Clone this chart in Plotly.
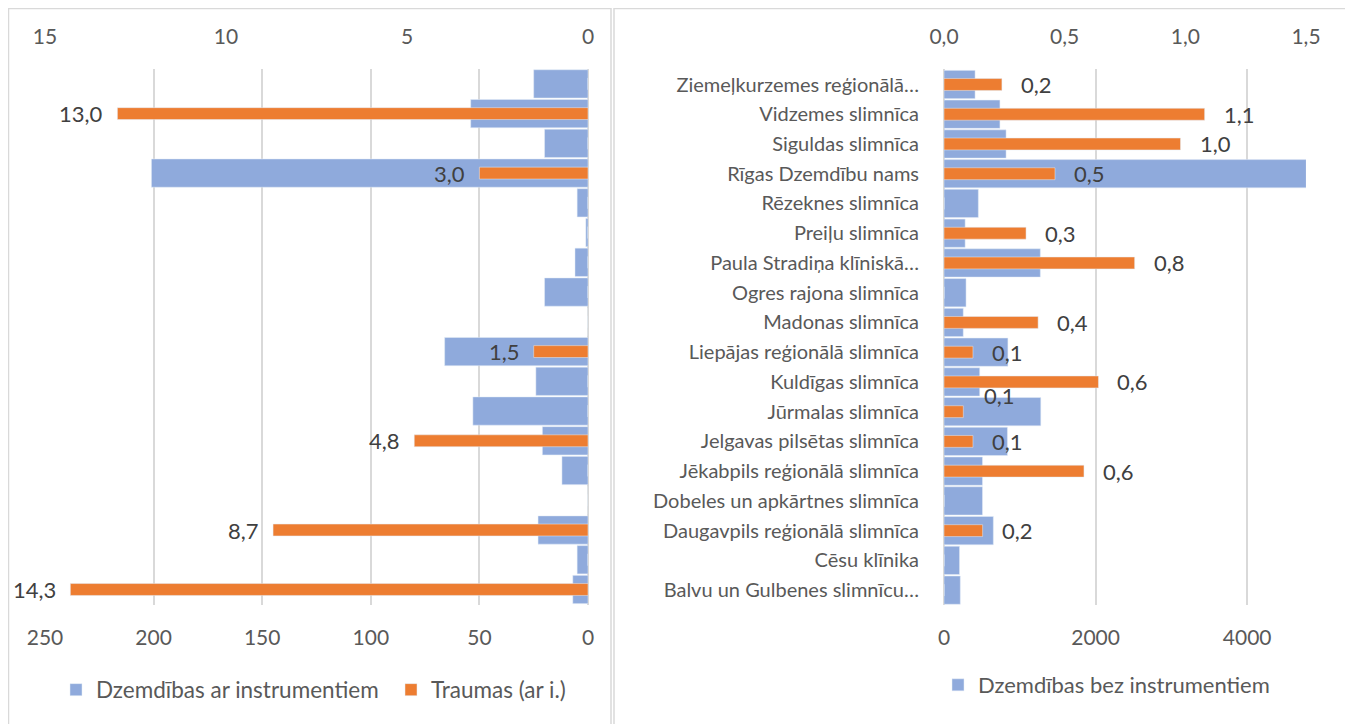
import plotly.graph_objects as go

# ---------------- data ----------------
categories = [
    "Ziemeļkurzemes reģionālā…",
    "Vidzemes slimnīca",
    "Siguldas slimnīca",
    "Rīgas Dzemdību nams",
    "Rēzeknes slimnīca",
    "Preiļu slimnīca",
    "Paula Stradiņa klīniskā…",
    "Ogres rajona slimnīca",
    "Madonas slimnīca",
    "Liepājas reģionālā slimnīca",
    "Kuldīgas slimnīca",
    "Jūrmalas slimnīca",
    "Jelgavas pilsētas slimnīca",
    "Jēkabpils reģionālā slimnīca",
    "Dobeles un apkārtnes slimnīca",
    "Daugavpils reģionālā slimnīca",
    "Cēsu klīnika",
    "Balvu un Gulbenes slimnīcu…",
]
dzemdibas_ar_instr = [25, 54, 20, 201, 5, 1, 6, 20, 0, 66, 24, 53, 21, 12, 0, 23, 5, 7]
traumas_ar_instr = [0, 13.0, 0, 3.0, 0, 0, 0, 0, 0, 1.5, 0, 0, 4.8, 0, 0, 8.7, 0, 14.3]
dzemdibas_bez_instr = [410, 738, 819, 4780, 453, 279, 1271, 291, 254, 843, 471, 1277, 837, 508, 508, 651, 205, 215]
traumas_bez_instr = [0.24, 1.08, 0.98, 0.46, 0, 0.34, 0.79, 0, 0.39, 0.12, 0.64, 0.08, 0.12, 0.58, 0, 0.16, 0, 0]

name_ar = "Dzemdības ar instrumentiem"
name_tr = "Traumas (ar i.)"
name_bez = "Dzemdības bez instrumentiem"

# ---------------- styling ----------------
BLUE = "#8FAADC"
ORANGE = "#ED7D31"
GRID = "#D9D9D9"
TXT = "#595959"
LBL = "#404040"
FONT = "Lato"

W, H = 1345, 716
OX, OY = 8, 8


def px_x(X):
    return (X - OX) / W


def px_y(Y):
    return 1 - (Y - OY) / H


def fmt(v):
    return f"{v:.1f}".replace(".", ",")


fig = go.Figure()

fig.add_trace(go.Bar(
    x=dzemdibas_ar_instr, y=categories, orientation="h", name=name_ar,
    marker=dict(color=BLUE), width=0.95, xaxis="x", yaxis="y",
    legend="legend", hoverinfo="x+y",
))
fig.add_trace(go.Bar(
    x=traumas_ar_instr, y=categories, orientation="h", name=name_tr,
    marker=dict(color=ORANGE), width=0.4, xaxis="x2", yaxis="y",
    legend="legend", hoverinfo="x+y",
))
fig.add_trace(go.Bar(
    x=dzemdibas_bez_instr, y=categories, orientation="h", name=name_bez,
    marker=dict(color=BLUE), width=0.95, xaxis="x3", yaxis="y2",
    legend="legend2", hoverinfo="x+y",
))
fig.add_trace(go.Bar(
    x=traumas_bez_instr, y=categories, orientation="h", name="Traumas (bez i.)",
    marker=dict(color=ORANGE), width=0.4, xaxis="x4", yaxis="y2",
    showlegend=False, hoverinfo="x+y",
))

LABEL_FONT = dict(family=FONT, size=22, color=LBL)
annotations = []
for c, v in zip(categories, traumas_ar_instr):
    if v > 0:
        annotations.append(dict(
            x=v, y=c, xref="x2", yref="y", text=fmt(v), showarrow=False,
            xanchor="right", yanchor="middle", xshift=-12,
            font=LABEL_FONT,
        ))
label_offsets = {"Jūrmalas slimnīca": (19, 16)}
for c, v in zip(categories, traumas_bez_instr):
    if v > 0:
        dx, dy = label_offsets.get(c, (17, 0))
        annotations.append(dict(
            x=v, y=c, xref="x4", yref="y2", text=fmt(v), showarrow=False,
            xanchor="left", yanchor="middle", xshift=dx, yshift=dy,
            font=LABEL_FONT,
        ))

ydom = [px_y(605), px_y(69)]
left_dom = [px_x(45), px_x(588)]
right_dom = [px_x(944), px_x(1306)]

tickfont = dict(family=FONT, size=21, color=TXT)
common = dict(automargin=False, fixedrange=True)
legend_font = dict(family=FONT, size=22.5, color=TXT)

fig.update_layout(
    width=W, height=H,
    margin=dict(l=0, r=0, t=0, b=0, autoexpand=False),
    paper_bgcolor="white", plot_bgcolor="white",
    separators=", ",
    font=dict(family=FONT, color=TXT),
    showlegend=True,
    xaxis=dict(domain=left_dom, anchor="y", range=[250, 0], dtick=50,
               showgrid=True, gridcolor=GRID, gridwidth=1.5,
               zeroline=True, zerolinecolor=GRID, zerolinewidth=1.5,
               ticks="outside", ticklen=14, tickcolor="rgba(0,0,0,0)",
               tickfont=tickfont, **common),
    xaxis2=dict(overlaying="x", anchor="y", side="top", range=[15, 0], dtick=5,
                showgrid=False, zeroline=False,
                ticks="outside", ticklen=16, tickcolor="rgba(0,0,0,0)",
                tickfont=tickfont, **common),
    yaxis=dict(domain=ydom, anchor="x", type="category",
               categoryorder="array", categoryarray=categories,
               autorange="reversed", showticklabels=False,
               showgrid=False, zeroline=False, **common),
    xaxis3=dict(domain=right_dom, anchor="y2", range=[0, 4776], dtick=2000,
                showgrid=True, gridcolor=GRID, gridwidth=1.5,
                zeroline=True, zerolinecolor=GRID, zerolinewidth=1.5,
                ticks="outside", ticklen=14, tickcolor="rgba(0,0,0,0)",
                tickfont=tickfont, **common),
    xaxis4=dict(overlaying="x3", anchor="y2", side="top", range=[0, 1.5], dtick=0.5,
                tickformat=".1f", showgrid=False, zeroline=False,
                ticks="outside", ticklen=16, tickcolor="rgba(0,0,0,0)",
                tickfont=tickfont, **common),
    yaxis2=dict(domain=ydom, anchor="x3", type="category",
                categoryorder="array", categoryarray=categories,
                autorange="reversed", showgrid=False, zeroline=False,
                ticks="outside", ticklen=20, tickcolor="rgba(0,0,0,0)",
                tickfont=dict(family=FONT, size=20, color=TXT), **common),
    legend=dict(orientation="h", x=px_x(56), xanchor="left",
                y=px_y(690), yanchor="middle", entrywidth=290,
                font=legend_font,
                bgcolor="rgba(0,0,0,0)", itemclick=False, itemdoubleclick=False),
    legend2=dict(orientation="h", x=px_x(938), xanchor="left",
                 y=px_y(685), yanchor="middle",
                 font=dict(family=FONT, size=22, color=TXT),
                 bgcolor="rgba(0,0,0,0)", itemclick=False, itemdoubleclick=False),
    annotations=annotations,
    shapes=[
        dict(type="rect", xref="paper", yref="paper",
             x0=px_x(8.5), x1=px_x(611), y0=px_y(730), y1=px_y(8.5),
             line=dict(color=GRID, width=1.5), layer="below"),
        dict(type="rect", xref="paper", yref="paper",
             x0=px_x(614), x1=px_x(1370), y0=px_y(730), y1=px_y(8.5),
             line=dict(color=GRID, width=1.5), layer="below"),
    ],
)

fig.write_html("out.html")
